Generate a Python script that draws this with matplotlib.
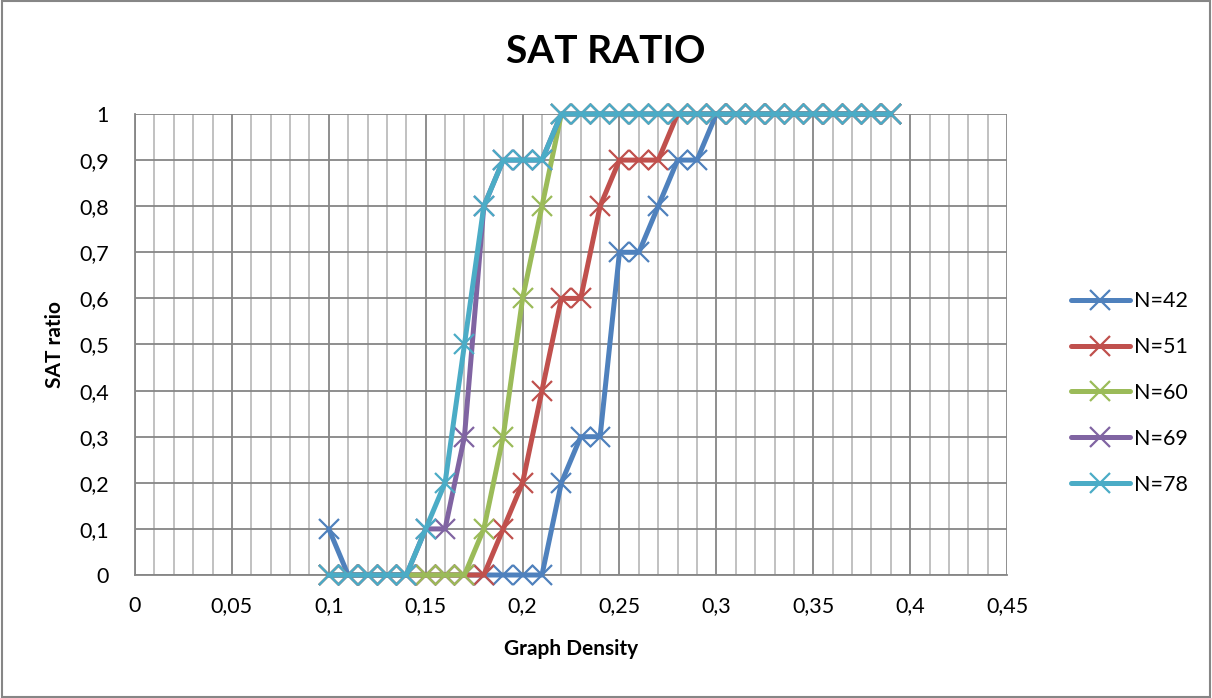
import matplotlib
matplotlib.use('Agg')
from matplotlib import pyplot as plt
from matplotlib.ticker import MultipleLocator, FuncFormatter
from matplotlib.patches import Rectangle

plt.rcParams['font.family'] = ['Lato', 'DejaVu Sans']

density = [0.10, 0.11, 0.12, 0.13, 0.14, 0.15, 0.16, 0.17, 0.18, 0.19,
           0.20, 0.21, 0.22, 0.23, 0.24, 0.25, 0.26, 0.27, 0.28, 0.29,
           0.30, 0.31, 0.32, 0.33, 0.34, 0.35, 0.36, 0.37, 0.38, 0.39]

n42 = [0.1, 0, 0, 0, 0, 0, 0, 0, 0, 0,
       0, 0, 0.2, 0.3, 0.3, 0.7, 0.7, 0.8, 0.9, 0.9,
       1, 1, 1, 1, 1, 1, 1, 1, 1, 1]
n51 = [0, 0, 0, 0, 0, 0, 0, 0, 0, 0.1,
       0.2, 0.4, 0.6, 0.6, 0.8, 0.9, 0.9, 0.9, 1, 1,
       1, 1, 1, 1, 1, 1, 1, 1, 1, 1]
n60 = [0, 0, 0, 0, 0, 0, 0, 0, 0.1, 0.3,
       0.6, 0.8, 1, 1, 1, 1, 1, 1, 1, 1,
       1, 1, 1, 1, 1, 1, 1, 1, 1, 1]
n69 = [0, 0, 0, 0, 0, 0.1, 0.1, 0.3, 0.8, 0.9,
       0.9, 0.9, 1, 1, 1, 1, 1, 1, 1, 1,
       1, 1, 1, 1, 1, 1, 1, 1, 1, 1]
n78 = [0, 0, 0, 0, 0, 0.1, 0.2, 0.5, 0.8, 0.9,
       0.9, 0.9, 1, 1, 1, 1, 1, 1, 1, 1,
       1, 1, 1, 1, 1, 1, 1, 1, 1, 1]

labels = ['N=42', 'N=51', 'N=60', 'N=69', 'N=78']
colors = ['#4F81BD', '#C0504D', '#9BBB59', '#8064A2', '#4BACC6']

fig = plt.figure(figsize=(12.12, 6.98), dpi=100)
ax = fig.add_axes([0.1114, 0.1762, 0.7195, 0.6605])

for vals, lab, col in zip([n42, n51, n60, n69, n78], labels, colors):
    ax.plot(density, vals, color=col, linewidth=3.6, marker='x',
            markersize=14, markeredgewidth=1.6, label=lab, clip_on=False,
            solid_capstyle='round', zorder=3)

ax.set_xlim(0, 0.45)
ax.set_ylim(0, 1)
ax.xaxis.set_major_locator(MultipleLocator(0.05))
ax.xaxis.set_minor_locator(MultipleLocator(0.01))
ax.yaxis.set_major_locator(MultipleLocator(0.1))

def comma_fmt(v, pos):
    s = ('%.2f' % v).rstrip('0').rstrip('.')
    return s.replace('.', ',')

ax.xaxis.set_major_formatter(FuncFormatter(comma_fmt))
ax.yaxis.set_major_formatter(FuncFormatter(comma_fmt))

ax.grid(which='major', axis='both', color='#868686', linewidth=1.3, zorder=1)
ax.grid(which='minor', axis='x', color='#bcbcbc', linewidth=1.3, zorder=1)
ax.set_axisbelow(True)
for s in ['top', 'right']:
    ax.spines[s].set_visible(False)
for s in ['left', 'bottom']:
    ax.spines[s].set_color('#868686')
    ax.spines[s].set_linewidth(1.3)

ax.tick_params(which='both', length=0, labelsize=15.5)
ax.tick_params(axis='y', pad=19)
ax.tick_params(axis='x', pad=15)

ax.set_xlabel('Graph Density', fontsize=15, fontweight='bold', labelpad=17)
ax.set_ylabel('SAT ratio', fontsize=15, fontweight='bold', labelpad=10)
fig.suptitle('SAT RATIO', fontsize=28, fontweight='bold', x=0.5, y=0.952)

ax.legend(loc='center left', bbox_to_anchor=(0.868, 0.437),
          bbox_transform=fig.transFigure, frameon=False, fontsize=15.5,
          handlelength=2.7, labelspacing=1.2, handletextpad=0.2)

fig.patches.append(Rectangle((0.002, 0.002), 0.996, 0.996, transform=fig.transFigure,
                             fill=False, edgecolor='#868686', linewidth=1.5))

plt.savefig('out.png', dpi=100)
